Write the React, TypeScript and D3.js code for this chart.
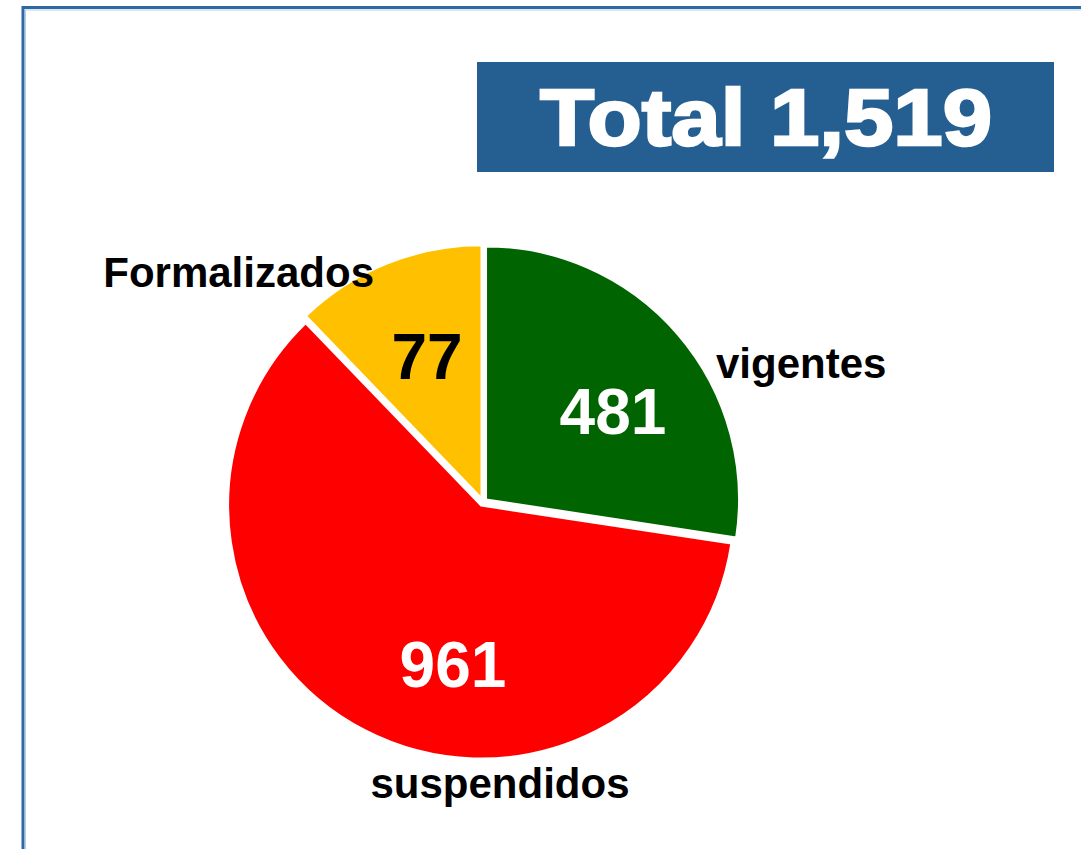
import React from "react";
import * as d3 from "d3";

const categories = ["vigentes", "suspendidos", "Formalizados"];
const counts = [481, 961, 77];
// slice sizes as drawn in the reference (share of the circle, %)
const sliceShares = [27.4, 60.4, 12.2];
const colors = ["#006400", "#ff0000", "#ffc000"];
const valueColors = ["#ffffff", "#ffffff", "#000000"];
const totalLabel = "Total 1,519";

const W = 1081;
const H = 849;
const CX = 483;
const CY = 502;
const R = 253;
const EXPLODE = 4;

// label placement (relative to pie center)
const valuePos = [
  [130, -90],
  [-30, 163],
  [-56, -145],
];
const namePos = [
  { dx: 233, dy: -124, anchor: "start" },
  { dx: 17, dy: 296, anchor: "middle" },
  { dx: -109, dy: -215, anchor: "end" },
];

export default function App() {
  const pie = d3
    .pie<number>()
    .sort(null)
    .startAngle(0)
    .endAngle(2 * Math.PI)
    .value((d) => d);
  const arcs = pie(sliceShares);
  const arc = d3.arc<d3.PieArcDatum<number>>().innerRadius(0).outerRadius(R);

  return (
    <svg
      width={W}
      height={H}
      style={{ position: "absolute", left: 0, top: 0, background: "#fff" }}
      fontFamily="'Liberation Sans', Arial, sans-serif"
    >
      {/* frame */}
      <path d={`M23,${H + 5} V7.5 H${W + 5}`} fill="none" stroke="#2f69a3" strokeWidth={3} />
      <path d={`M25.5,${H + 5} V10 H${W + 5}`} fill="none" stroke="#b4cde9" strokeWidth={1} />

      {/* title box */}
      <rect x={477} y={62} width={577} height={110} fill="#255e90" />
      <text
        x={540}
        y={145}
        fontSize={80}
        fontWeight="bold"
        fill="#fff"
        stroke="#fff"
        strokeWidth={2.5}
        textLength={452}
        lengthAdjust="spacingAndGlyphs"
      >
        {totalLabel}
      </text>

      {/* pie */}
      {arcs.map((a, i) => {
        const mid = (a.startAngle + a.endAngle) / 2;
        const ox = Math.sin(mid) * EXPLODE;
        const oy = -Math.cos(mid) * EXPLODE;
        return (
          <path
            key={categories[i]}
            d={arc(a) || ""}
            transform={`translate(${CX + ox},${CY + oy})`}
            fill={colors[i]}
            stroke="#fff"
            strokeWidth={2}
          />
        );
      })}

      {/* value labels */}
      {counts.map((c, i) => (
        <text
          key={"v" + i}
          x={CX + valuePos[i][0]}
          y={CY + valuePos[i][1]}
          textAnchor="middle"
          dominantBaseline="central"
          fontSize={64}
          fontWeight="bold"
          fill={valueColors[i]}
        >
          {c}
        </text>
      ))}

      {/* category labels */}
      {categories.map((c, i) => (
        <text
          key={"n" + i}
          x={CX + namePos[i].dx}
          y={CY + namePos[i].dy}
          textAnchor={namePos[i].anchor as any}
          fontSize={42}
          fontWeight="bold"
          fill="#000"
        >
          {c}
        </text>
      ))}
    </svg>
  );
}
